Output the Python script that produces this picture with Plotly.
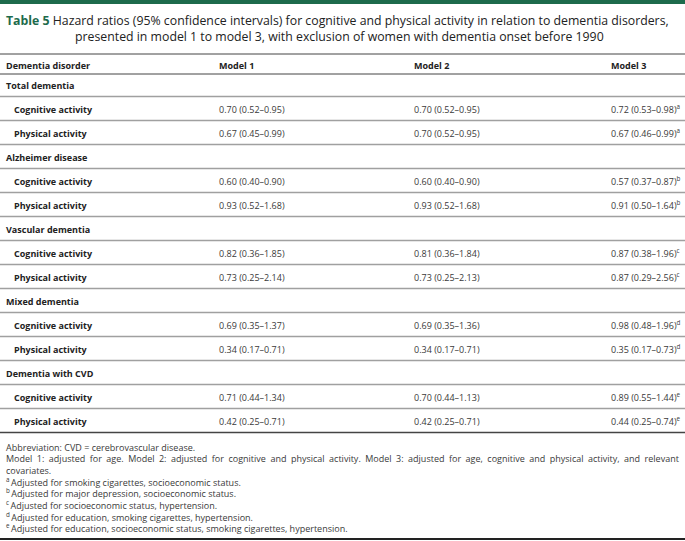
import plotly.graph_objects as go

W, H = 685, 541

title_lead = "Table 5"
title_line1 = "Hazard ratios (95% confidence intervals) for cognitive and physical activity in relation to dementia disorders,"
title_line2 = "presented in model 1 to model 3, with exclusion of women with dementia onset before 1990"

col_headers = ["Dementia disorder", "Model 1", "Model 2", "Model 3"]

groups = ["Total dementia", "Alzheimer disease", "Vascular dementia", "Mixed dementia", "Dementia with CVD"]
activities = ["Cognitive activity", "Physical activity"]

model1 = [["0.70 (0.52–0.95)", "0.67 (0.45–0.99)"],
          ["0.60 (0.40–0.90)", "0.93 (0.52–1.68)"],
          ["0.82 (0.36–1.85)", "0.73 (0.25–2.14)"],
          ["0.69 (0.35–1.37)", "0.34 (0.17–0.71)"],
          ["0.71 (0.44–1.34)", "0.42 (0.25–0.71)"]]
model2 = [["0.70 (0.52–0.95)", "0.70 (0.52–0.95)"],
          ["0.60 (0.40–0.90)", "0.93 (0.52–1.68)"],
          ["0.81 (0.36–1.84)", "0.73 (0.25–2.13)"],
          ["0.69 (0.35–1.36)", "0.34 (0.17–0.71)"],
          ["0.70 (0.44–1.13)", "0.42 (0.25–0.71)"]]
model3 = [["0.72 (0.53–0.98)", "0.67 (0.46–0.99)"],
          ["0.57 (0.37–0.87)", "0.91 (0.50–1.64)"],
          ["0.87 (0.38–1.96)", "0.87 (0.29–2.56)"],
          ["0.98 (0.48–1.96)", "0.35 (0.17–0.73)"],
          ["0.89 (0.55–1.44)", "0.44 (0.25–0.74)"]]
model3_marks = ["a", "b", "c", "d", "e"]

footnotes = [
    ("", "Abbreviation: CVD = cerebrovascular disease."),
    ("", "Model 1: adjusted for age. Model 2: adjusted for cognitive and physical activity. Model 3: adjusted for age, cognitive and physical activity, and relevant"),
    ("", "covariates."),
    ("a", "Adjusted for smoking cigarettes, socioeconomic status."),
    ("b", "Adjusted for major depression, socioeconomic status."),
    ("c", "Adjusted for socioeconomic status, hypertension."),
    ("d", "Adjusted for education, smoking cigarettes, hypertension."),
    ("e", "Adjusted for education, socioeconomic status, smoking cigarettes, hypertension."),
]
justified_footnote = 1  # index of the wrapped (justified) footnote line

# ---- layout constants ----
FONT = "Open Sans"
GREEN = "#1d6b4c"
TEXT = "#3a3a3a"
BOLD = "#222222"
LIGHT_RULE = "#a0a0a0"
DARK_RULE = "#444444"

col_x = [4, 217, 412, 609]
indent_x = 12
fs = 9

annotations = []
shapes = []

def txt(x, y, s, size=fs, color=TEXT, bold=False):
    if bold:
        s = "<b>" + s + "</b>"
    annotations.append(dict(x=x, y=y, xref="x", yref="y", text=s, showarrow=False,
                            xanchor="left", yanchor="middle",
                            font=dict(family=FONT, size=size, color=color)))

def hline(y, color, width):
    shapes.append(dict(type="line", xref="x", yref="y", x0=0, x1=W, y0=y, y1=y,
                       line=dict(color=color, width=width)))

# top green bar
shapes.append(dict(type="rect", xref="x", yref="y", x0=0, x1=W, y0=0, y1=4,
                   fillcolor=GREEN, line=dict(width=0)))

# title
annotations.append(dict(x=4, y=20, xref="x", yref="y", showarrow=False, xanchor="left", yanchor="middle",
                        text=f"<b><span style='color:{GREEN}'>{title_lead}</span></b> {title_line1}",
                        font=dict(family=FONT, size=12.3, color="#222222")))
annotations.append(dict(x=73, y=36, xref="x", yref="y", showarrow=False, xanchor="left", yanchor="middle",
                        text=title_line2, font=dict(family=FONT, size=12.3, color="#222222")))

# header
hline(54, DARK_RULE, 1)
header_y = 65
for cx, h in zip(col_x, col_headers):
    txt(cx, header_y, h, bold=True, color=BOLD)
hline(74, DARK_RULE, 1)

pitch = 24
y = 85
rules = []
for gi, g in enumerate(groups):
    txt(col_x[0], y, g, bold=True, color=BOLD)
    rules.append(y + 11.5)
    y += pitch
    for ai, a in enumerate(activities):
        txt(indent_x, y, a, bold=True, color=BOLD)
        txt(col_x[1], y, model1[gi][ai])
        txt(col_x[2], y, model2[gi][ai])
        txt(col_x[3], y, model3[gi][ai] + "<sup>" + model3_marks[gi] + "</sup>")
        rules.append(y + 11.5)
        y += pitch

for r in rules[:-1]:
    hline(r, LIGHT_RULE, 1.3)
hline(rules[-1], DARK_RULE, 1.3)

fy = 447
for i, (mark, s) in enumerate(footnotes):
    if i == justified_footnote:
        s = s.replace(" ", "\u2002")
    t = ("<sup>" + mark + "</sup>\u2009" if mark else "") + s
    txt(col_x[0], fy, t)
    fy += 11.6

hline(539, "#222222", 2)

fig = go.Figure()
fig.update_layout(
    width=W, height=H,
    margin=dict(l=0, r=0, t=0, b=0),
    paper_bgcolor="white", plot_bgcolor="white",
    xaxis=dict(range=[0, W], visible=False, fixedrange=True),
    yaxis=dict(range=[H, 0], visible=False, fixedrange=True),
    annotations=annotations, shapes=shapes, showlegend=False,
)
fig.write_html("out.html", config={"displayModeBar": False},
               post_script="document.body.style.margin='0';document.body.style.overflow='hidden';")
